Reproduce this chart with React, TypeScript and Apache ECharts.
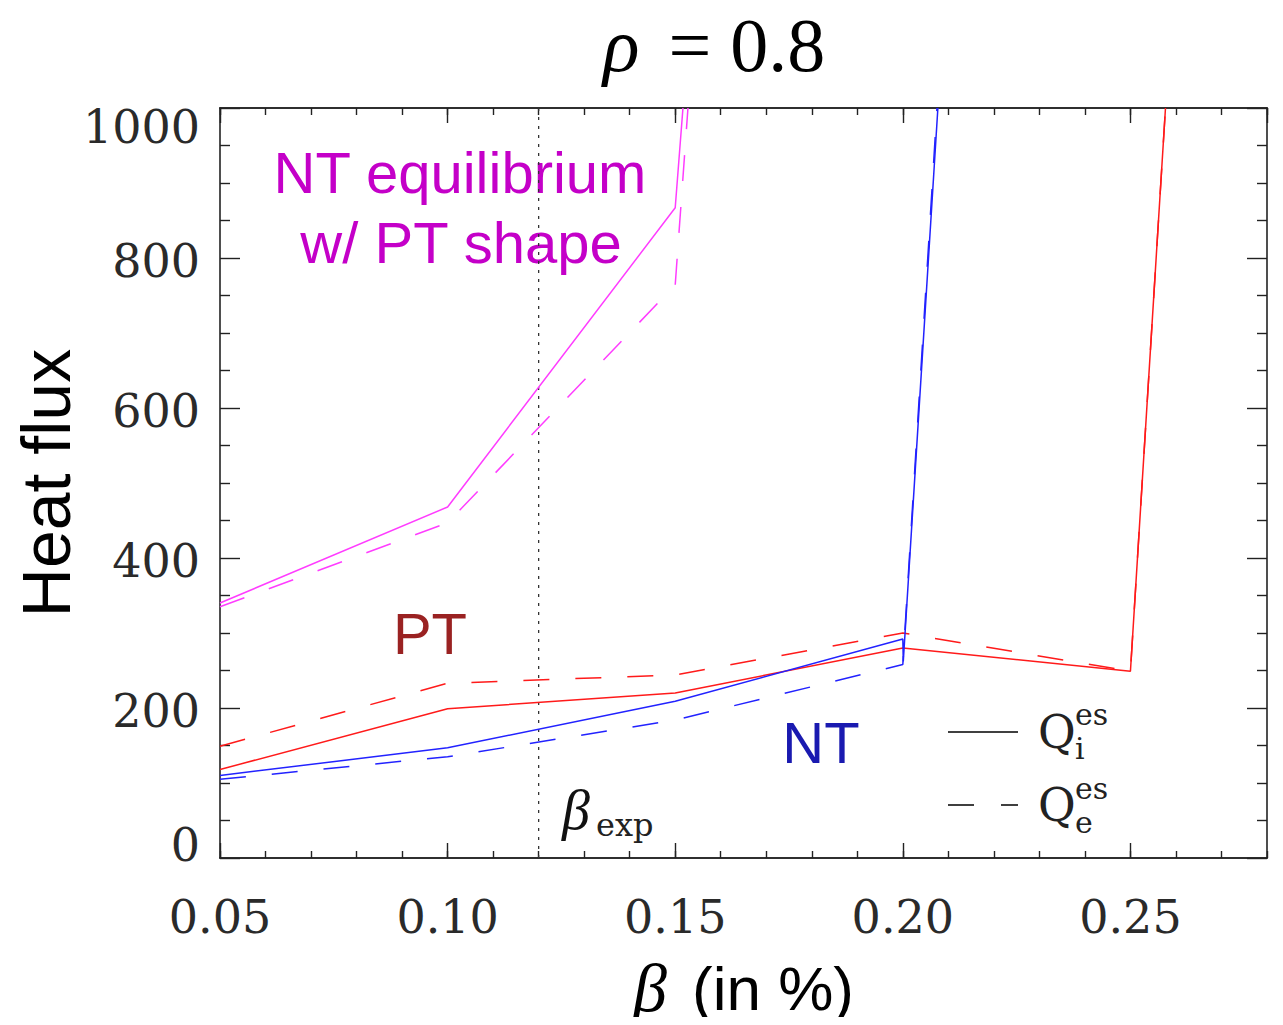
import React, { useEffect, useRef } from "react";
import * as echarts from "echarts";

// ---- data ----
const magentaSolidX = [0.05, 0.1, 0.15, 0.1517];
const magentaSolidY = [340, 468, 867, 1000];
const magentaDashX = [0.05, 0.1, 0.15, 0.1528];
const magentaDashY = [335, 447, 764, 1000];

const redSolidX = [0.05, 0.1, 0.15, 0.2, 0.25, 0.2577];
const redSolidY = [118, 199, 220, 280, 249, 1000];
const redDashX = [0.05, 0.1, 0.15, 0.2, 0.25, 0.2577];
const redDashY = [149, 233, 244, 300, 249, 1000];

const blueSolidX = [0.05, 0.1, 0.15, 0.2, 0.2001, 0.2077];
const blueSolidY = [110, 147, 209, 292, 262, 1000];
const blueDashX = [0.05, 0.1, 0.15, 0.2, 0.2075];
const blueDashY = [105, 135, 184, 258, 1000];

const betaExp = 0.12;
const xMin = 0.05;
const xMax = 0.28;
const yMin = 0;
const yMax = 1000;

const zip = (xs: number[], ys: number[]) => xs.map((x, i) => [x, ys[i]]);

const MAGENTA = "#ff3cff";
const RED = "#ff1a1a";
const BLUE = "#2222ff";
const AXIS = "#222";
const TICKFONT = "DejaVu Serif";

export default function App() {
  const ref = useRef<HTMLDivElement>(null);
  useEffect(() => {
    if (!ref.current) return;
    const chart = echarts.init(ref.current, null, { renderer: "svg" });

    const baseX = (position: "bottom" | "top", major: boolean, labels: boolean) => ({
      type: "value",
      position,
      min: xMin,
      max: xMax,
      interval: major ? 0.05 : 0.01,
      axisLine: { show: true, onZero: false, lineStyle: { color: AXIS, width: 1.6 } },
      axisTick: { show: true, inside: true, length: major ? 15 : 7, lineStyle: { color: AXIS, width: 1.4 } },
      splitLine: { show: false },
      axisLabel: {
        show: labels,
        showMaxLabel: false,
        margin: 36,
        fontFamily: TICKFONT,
        fontSize: 46,
        color: "#2a2a2a",
        formatter: (v: number) => v.toFixed(2),
      },
      ...(labels
        ? {
            name: "{b|β}{s| (in %)}",
            nameLocation: "middle",
            nameGap: 96,
            nameTextStyle: {
              rich: {
                b: { fontFamily: "Liberation Serif", fontStyle: "italic", fontSize: 68, color: "#000", padding: [0, 8, 0, 0] },
                s: { fontFamily: "Liberation Sans", fontSize: 62, color: "#000" },
              },
            },
          }
        : {}),
    });

    const baseY = (position: "left" | "right", labels: boolean) => ({
      type: "value",
      position,
      min: yMin,
      max: yMax,
      interval: 200,
      axisLine: { show: true, onZero: false, lineStyle: { color: AXIS, width: 1.6 } },
      axisTick: { show: true, inside: true, length: 20, lineStyle: { color: AXIS, width: 1.4 } },
      minorTick: { show: true, splitNumber: 4, length: 10, lineStyle: { color: AXIS, width: 1.4 } },
      splitLine: { show: false },
      minorSplitLine: { show: false },
      axisLabel: {
        show: labels,
        margin: 20,
        formatter: (v: number) =>
          v === 0 ? "{lo|0}" : v === 1000 ? "{hi|1000}" : "{n|" + v + "}",
        rich: {
          n: { fontFamily: TICKFONT, fontSize: 46, color: "#2a2a2a", padding: [6, 0, 0, 0] },
          lo: { fontFamily: TICKFONT, fontSize: 46, color: "#2a2a2a", padding: [0, 0, 26, 0] },
          hi: { fontFamily: TICKFONT, fontSize: 46, color: "#2a2a2a", padding: [38, 0, 0, 0] },
        },
      },
      ...(labels
        ? {
            name: "Heat flux",
            nameLocation: "middle",
            nameGap: 140,
            nameMoveOverlap: false,
            nameTextStyle: { fontFamily: "Liberation Sans", fontSize: 68, color: "#000" },
          }
        : {}),
    });

    const line = (data: number[][], color: string, dashed: boolean) => ({
      type: "line",
      xAxisIndex: 1,
      yAxisIndex: 0,
      data,
      symbol: "none",
      showSymbol: false,
      silent: true,
      lineStyle: { color, width: 1.5, type: dashed ? [26, 26] : "solid" },
    });

    chart.setOption({
      animation: false,
      backgroundColor: "#fff",
      title: {
        text: "{r|ρ}{e| = 0.8}",
        left: 598,
        top: 2,
        textStyle: {
          rich: {
            r: { fontFamily: "Liberation Serif", fontStyle: "italic", fontWeight: "normal", fontSize: 76, color: "#000", padding: [0, 10, 0, 0] },
            e: { fontFamily: "Liberation Serif", fontWeight: "normal", fontSize: 76, color: "#000" },
          },
        },
      },
      grid: { left: 220, right: 16, top: 108, bottom: 167, containLabel: false, outerBoundsMode: "none" },
      xAxis: [
        baseX("bottom", false, false),
        baseX("bottom", true, true),
        baseX("top", false, false),
        baseX("top", true, false),
      ],
      yAxis: [baseY("left", true), baseY("right", false)],
      series: [
        {
          type: "line",
          xAxisIndex: 1,
          yAxisIndex: 0,
          data: [
            [betaExp, yMin],
            [betaExp, yMax],
          ],
          symbol: "none",
          silent: true,
          lineStyle: { color: "#333", width: 1.3, type: [3, 6] },
        },
        line(zip(magentaSolidX, magentaSolidY), MAGENTA, false),
        line(zip(magentaDashX, magentaDashY), MAGENTA, true),
        line(zip(redSolidX, redSolidY), RED, false),
        line(zip(redDashX, redDashY), RED, true),
        line(zip(blueSolidX, blueSolidY), BLUE, false),
        line(zip(blueDashX, blueDashY), BLUE, true),
      ],
      graphic: [
        {
          type: "text",
          x: 460,
          y: 172,
          style: {
            text: "NT equilibrium",
            fontFamily: "Liberation Sans",
            fontSize: 58,
            fill: "#c400c8",
            align: "center",
            verticalAlign: "middle",
          },
        },
        {
          type: "text",
          x: 461,
          y: 242,
          style: {
            text: "w/ PT shape",
            fontFamily: "Liberation Sans",
            fontSize: 58,
            fill: "#c400c8",
            align: "center",
            verticalAlign: "middle",
          },
        },
        {
          type: "text",
          x: 430,
          y: 633,
          style: {
            text: "PT",
            fontFamily: "Liberation Sans",
            fontSize: 58,
            fill: "#9a2222",
            align: "center",
            verticalAlign: "middle",
          },
        },
        {
          type: "text",
          x: 821,
          y: 742,
          style: {
            text: "NT",
            fontFamily: "Liberation Sans",
            fontSize: 58,
            fill: "#1a1ab0",
            align: "center",
            verticalAlign: "middle",
          },
        },
        // beta_exp label
        {
          type: "text",
          x: 562,
          y: 810,
          style: {
            text: "β",
            fontFamily: "Liberation Serif",
            fontStyle: "italic",
            fontSize: 56,
            fill: "#111",
            verticalAlign: "middle",
          },
        },
        {
          type: "text",
          x: 596,
          y: 825,
          style: { text: "exp", fontFamily: TICKFONT, fontSize: 32, fill: "#222", verticalAlign: "middle" },
        },
        // legend
        {
          type: "line",
          shape: { x1: 948, y1: 732, x2: 1018, y2: 732 },
          style: { stroke: "#000", lineWidth: 1.5 },
        },
        {
          type: "line",
          shape: { x1: 948, y1: 805, x2: 1018, y2: 805 },
          style: { stroke: "#000", lineWidth: 1.5, lineDash: [26, 27] },
        },
        {
          type: "text",
          x: 1038,
          y: 732,
          style: { text: "Q", fontFamily: TICKFONT, fontSize: 46, fill: "#222", verticalAlign: "middle" },
        },
        {
          type: "text",
          x: 1075,
          y: 714,
          style: { text: "es", fontFamily: TICKFONT, fontSize: 30, fill: "#222", verticalAlign: "middle" },
        },
        {
          type: "text",
          x: 1075,
          y: 748,
          style: { text: "i", fontFamily: TICKFONT, fontSize: 30, fill: "#222", verticalAlign: "middle" },
        },
        {
          type: "text",
          x: 1038,
          y: 805,
          style: { text: "Q", fontFamily: TICKFONT, fontSize: 46, fill: "#222", verticalAlign: "middle" },
        },
        {
          type: "text",
          x: 1075,
          y: 788,
          style: { text: "es", fontFamily: TICKFONT, fontSize: 30, fill: "#222", verticalAlign: "middle" },
        },
        {
          type: "text",
          x: 1075,
          y: 822,
          style: { text: "e", fontFamily: TICKFONT, fontSize: 30, fill: "#222", verticalAlign: "middle" },
        },
      ],
    });

    return () => chart.dispose();
  }, []);

  return <div ref={ref} style={{ width: 1283, height: 1025, margin: -8 }} />;
}
